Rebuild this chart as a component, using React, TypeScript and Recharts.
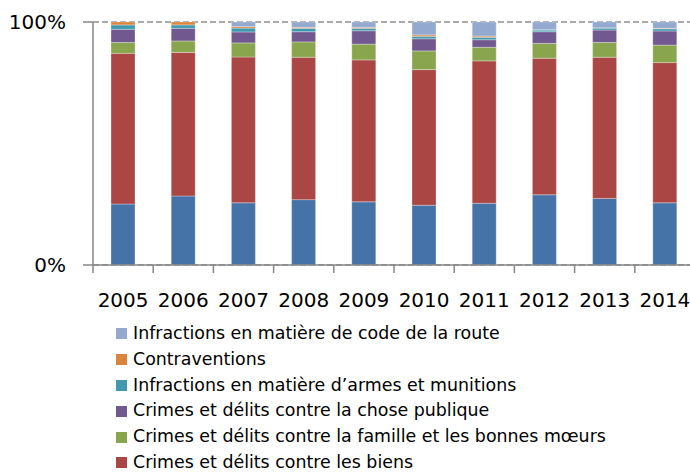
import React from "react";
import { BarChart, Bar, XAxis, YAxis, CartesianGrid, Legend } from "recharts";

const years = ["2005", "2006", "2007", "2008", "2009", "2010", "2011", "2012", "2013", "2014"];

// shares in percent
const personnes = [25.1, 28.4, 25.6, 26.9, 26.0, 24.6, 25.4, 28.9, 27.4, 25.6];
const biens = [62.0, 59.1, 60.0, 58.6, 58.4, 55.8, 58.6, 56.2, 58.1, 57.7];
const famille = [4.5, 4.7, 5.8, 6.3, 6.5, 7.7, 5.6, 6.1, 6.1, 7.2];
const chosePublique = [5.4, 5.2, 4.5, 4.2, 5.5, 5.0, 3.1, 4.8, 5.1, 5.8];
const armes = [1.8, 1.4, 1.6, 1.4, 1.0, 1.0, 1.0, 0.7, 0.8, 0.9];
const contraventions = [1.2, 1.2, 0.6, 0.4, 0.4, 0.6, 0.5, 0.1, 0.1, 0.2];
const route = [0, 0, 1.9, 2.2, 2.2, 5.3, 5.8, 3.2, 2.4, 2.6];

const yTicks = [0, 1];

const series = [
  { key: "personnes", name: "Crimes et délits contre les personnes", values: personnes, color: "#4572A7", legend: false },
  { key: "biens", name: "Crimes et délits contre les biens", values: biens, color: "#AA4643", legend: true },
  { key: "famille", name: "Crimes et délits contre la famille et les bonnes mœurs", values: famille, color: "#89A54E", legend: true },
  { key: "chose", name: "Crimes et délits contre la chose publique", values: chosePublique, color: "#71588F", legend: true },
  { key: "armes", name: "Infractions en matière d’armes et munitions", values: armes, color: "#4198AF", legend: true },
  { key: "contra", name: "Contraventions", values: contraventions, color: "#DB843D", legend: true },
  { key: "route", name: "Infractions en matière de code de la route", values: route, color: "#93A9CF", legend: true },
];

const data = years.map((y, i) => {
  const row: Record<string, number | string> = { year: y };
  series.forEach((s) => {
    row[s.key] = s.values[i];
  });
  return row;
});

const FONT = "'DejaVu Sans', sans-serif";
const AXIS = "#878787";

const XTick = (props: any) => {
  const { x, y, payload, index, visibleTicksCount } = props;
  const off = payload && typeof payload.offset === "number" ? payload.offset : 30.1;
  const last = index === visibleTicksCount - 1;
  return (
    <g>
      <line x1={x - off} y1={y} x2={x - off} y2={y + 8} stroke={AXIS} strokeWidth={1.5} />
      {last && <line x1={x + off} y1={y} x2={x + off} y2={y + 8} stroke={AXIS} strokeWidth={1.5} />}
      <text x={x} y={y + 28} dy="0.71em" textAnchor="middle" fontFamily={FONT} fontSize={20} fill="#000">
        {payload.value}
      </text>
    </g>
  );
};

const LegendContent = () => {
  const items = series.filter((s) => s.legend).slice().reverse();
  return (
    <div style={{ fontFamily: FONT, fontSize: 17.4, color: "#000" }}>
      {items.map((s) => (
        <div key={s.key} style={{ height: 25.8, lineHeight: "25.8px", display: "flex", alignItems: "center", whiteSpace: "nowrap" }}>
          <span style={{ display: "inline-block", width: 11, height: 11, background: s.color, marginRight: 6 }} />
          <span>{s.name}</span>
        </div>
      ))}
    </div>
  );
};

export default function App() {
  return (
    <div style={{ position: "absolute", left: 0, top: 0, width: 690, height: 472, overflow: "hidden", background: "#fff" }}>
      <BarChart
        width={700}
        height={472}
        data={data}
        stackOffset="expand"
        margin={{ top: 22, right: 5, bottom: 0, left: 0 }}
      >
        <CartesianGrid vertical={false} stroke="#8e8e8e" strokeWidth={1.5} strokeDasharray="6 3" />
        <XAxis
          dataKey="year"
          height={207}
          axisLine={{ stroke: AXIS, strokeWidth: 1.5 }}
          tickLine={false}
          tickSize={0}
          tickMargin={0}
          tick={<XTick />}
          interval={0}
        />
        <YAxis
          width={93}
          domain={[0, 1]}
          ticks={yTicks}
          tickFormatter={(v: number) => `${Math.round(v * 100)}%`}
          axisLine={{ stroke: AXIS, strokeWidth: 1.5 }}
          tickLine={{ stroke: AXIS, strokeWidth: 1.5 }}
          tickSize={10}
          tickMargin={17}
          tick={{ fontFamily: FONT, fontSize: 20, fill: "#000" }}
        />
        <Legend
          layout="vertical"
          align="center"
          verticalAlign="middle"
          content={<LegendContent />}
          wrapperStyle={{ left: 116, top: 321, width: 570, height: 160 }}
        />
        {series.map((s) => (
          <Bar
            key={s.key}
            dataKey={s.key}
            name={s.name}
            stackId="a"
            fill={s.color}
            stroke="rgba(255,255,255,0.3)"
            strokeWidth={1}
            barSize={24}
            isAnimationActive={false}
          />
        ))}
      </BarChart>
    </div>
  );
}
